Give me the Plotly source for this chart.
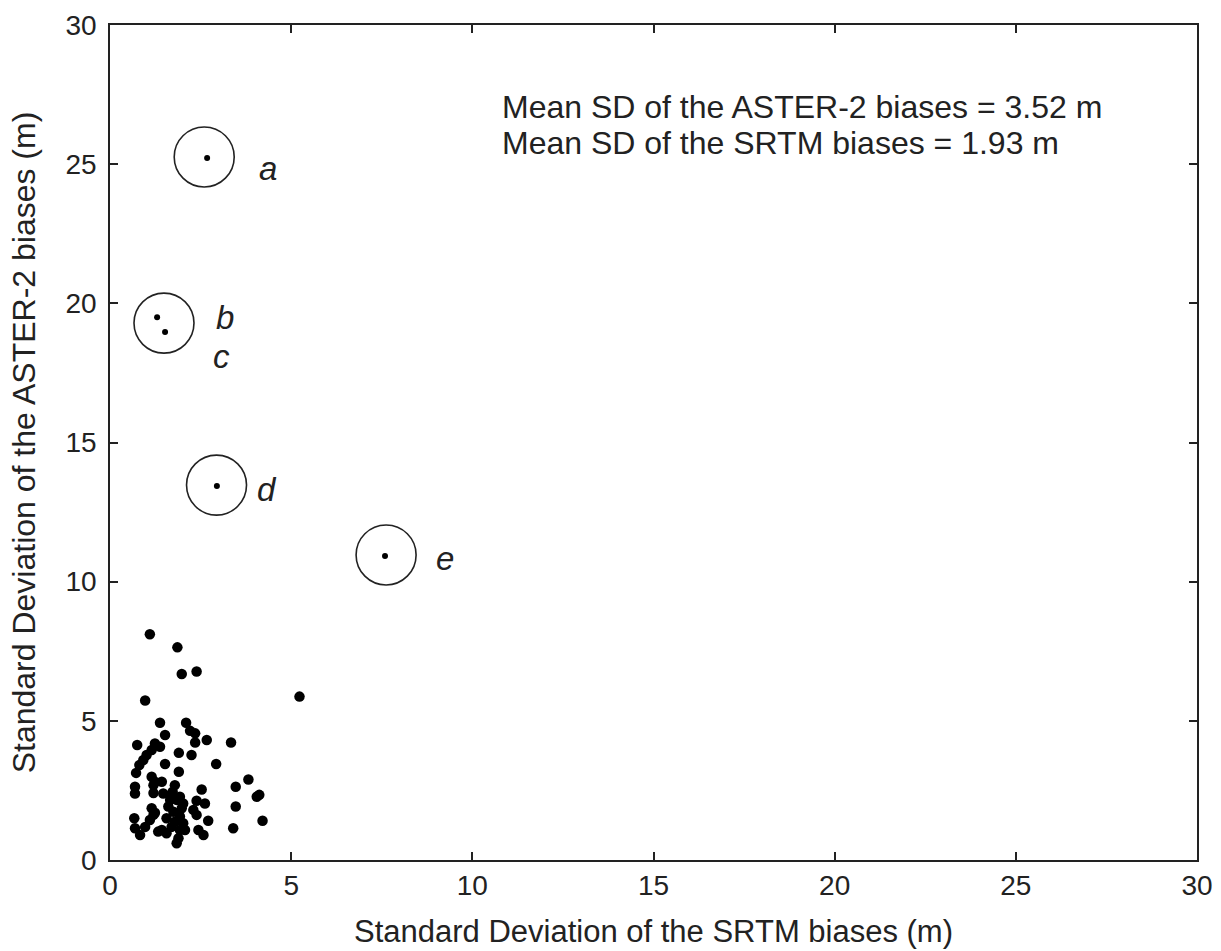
import plotly.graph_objects as go

# Cluster of gauge/site points (SD of SRTM biases, SD of ASTER-2 biases)
srtm_sd = [1.10, 1.86, 1.98, 2.39, 0.97, 5.23, 1.38, 2.10, 2.21, 2.35, 1.52, 2.35, 2.67, 3.34,
           0.75, 1.24, 1.38, 1.15, 1.01, 0.92, 0.81, 1.90, 2.25, 1.52, 2.93, 0.72, 1.15, 1.90,
           3.82, 0.69, 0.69, 1.20, 1.20, 1.43, 1.79, 1.73, 2.53, 3.47, 4.12, 4.05, 1.84, 1.93,
           2.39, 2.62, 3.47, 1.15, 1.24, 1.61, 1.75, 2.30, 0.67, 1.10, 1.56, 1.93, 2.71, 4.21,
           0.69, 0.83, 0.97, 1.33, 1.43, 1.70, 1.93, 2.07, 1.84, 1.89, 2.44, 2.58, 3.40, 1.56,
           1.66, 1.70, 1.24, 1.47, 2.02, 1.98, 2.02, 1.79, 1.20, 2.39]
aster_sd = [8.11, 7.64, 6.68, 6.77, 5.73, 5.87, 4.93, 4.93, 4.64, 4.55, 4.49, 4.22, 4.31, 4.22,
            4.13, 4.19, 4.07, 3.95, 3.77, 3.59, 3.41, 3.85, 3.77, 3.45, 3.45, 3.13, 2.99, 3.17,
            2.89, 2.63, 2.39, 2.69, 2.41, 2.81, 2.69, 2.45, 2.53, 2.63, 2.34, 2.27, 2.16, 2.27,
            2.13, 2.03, 1.92, 1.86, 1.70, 1.92, 1.73, 1.80, 1.50, 1.44, 1.50, 1.56, 1.41, 1.41,
            1.14, 0.90, 1.19, 1.02, 1.08, 1.19, 1.08, 1.08, 0.60, 0.78, 1.08, 0.90, 1.14, 0.96,
            2.16, 2.34, 2.81, 2.39, 2.03, 1.86, 1.32, 1.37, 1.62, 1.62]

# Outlier points (circled)
out_labels = ["a", "b", "c", "d", "e"]
out_srtm = [2.68, 1.30, 1.52, 2.95, 7.59]
out_aster = [25.22, 19.50, 18.97, 13.44, 10.92]

# Circles around outliers
circle_x = [2.60, 1.49, 2.94, 7.62]
circle_y = [25.26, 19.29, 13.47, 10.96]

# Label positions
label_x = [4.36, 3.17, 3.09, 4.33, 9.25]
label_y = [24.86, 19.48, 18.10, 13.30, 10.82]

ticks = [0, 5, 10, 15, 20, 25, 30]
stat_lines = ["Mean SD of the ASTER-2 biases = 3.52 m", "Mean SD of the SRTM biases = 1.93 m"]
stat_y = [27.06, 25.76]

FONT = "Liberation Sans, Arial, sans-serif"

fig = go.Figure()
fig.add_trace(go.Scatter(x=srtm_sd, y=aster_sd, mode="markers",
                         marker=dict(color="black", size=10.5, symbol="circle"),
                         showlegend=False, hoverinfo="x+y"))
fig.add_trace(go.Scatter(x=out_srtm, y=out_aster, mode="markers",
                         marker=dict(color="black", size=6, symbol="circle"),
                         showlegend=False))
fig.add_trace(go.Scatter(x=circle_x, y=circle_y, mode="markers",
                         marker=dict(color="#222", size=60, symbol="circle-open",
                                     line=dict(color="#222", width=1.6)),
                         showlegend=False, hoverinfo="skip"))

for lx, ly, t in zip(label_x, label_y, out_labels):
    fig.add_annotation(x=lx, y=ly, text="<i>" + t + "</i>", showarrow=False,
                       font=dict(family=FONT, size=33, color="#222"),
                       xanchor="center", yanchor="middle")

for sy, t in zip(stat_y, stat_lines):
    fig.add_annotation(x=10.76, y=sy, text=t, showarrow=False,
                       font=dict(family=FONT, size=32, color="#222"),
                       xanchor="left", yanchor="middle")

axis_common = dict(range=[0, 30], tickvals=ticks, ticktext=[str(t) for t in ticks],
                   showgrid=False, zeroline=False, showline=True, linecolor="#222",
                   linewidth=1.6, mirror="ticks", ticks="inside", ticklen=8,
                   tickcolor="#222", tickwidth=1.5,
                   tickfont=dict(family=FONT, size=28, color="#222"))

fig.update_xaxes(**axis_common,
                 title=dict(text="Standard Deviation of the SRTM biases (m)",
                            font=dict(family=FONT, size=31, color="#222"), standoff=20))
fig.update_yaxes(**axis_common, ticklabelstandoff=6,
                 title=dict(text="Standard Deviation of the ASTER-2 biases (m)",
                            font=dict(family=FONT, size=32, color="#222"), standoff=20))

fig.update_layout(width=1221, height=951, plot_bgcolor="white", paper_bgcolor="white",
                  margin=dict(l=110, r=24, t=25, b=91, autoexpand=False))

fig.write_html("out.html")
